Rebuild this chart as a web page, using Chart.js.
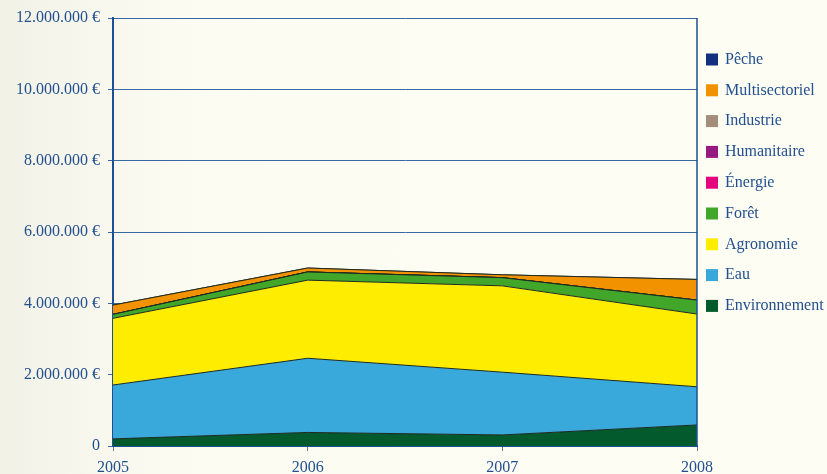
<!DOCTYPE html>
<html>
<head>
<meta charset="utf-8">
<script src="https://cdn.jsdelivr.net/npm/chart.js@4"></script>
<style>
  html, body { margin: 0; padding: 0; }
  body {
    width: 827px; height: 474px; overflow: hidden;
    background: linear-gradient(to right, #f2f1e6 0px, #f8f7ee 90px, #fdfcf2 200px, #fefdf4 827px);
  }
  #wrap { position: relative; width: 827px; height: 474px; }
</style>
</head>
<body>
<div id="wrap"><canvas id="chart" width="827" height="474"></canvas></div>
<script>
const years = ["2005", "2006", "2007", "2008"];

// montants par secteur (€), du bas vers le haut de la pile
const environnement = [200000, 380000, 310000, 590000];
const eau = [1510000, 2080000, 1760000, 1070000];
const agronomie = [1870000, 2190000, 2420000, 2040000];
const foret = [110000, 230000, 230000, 390000];
const energie = [0, 0, 0, 0];
const humanitaire = [0, 0, 0, 0];
const industrie = [0, 0, 0, 0];
const multisectoriel = [260000, 110000, 80000, 580000];
const peche = [0, 0, 0, 0];

const yTicks = [0, 2000000, 4000000, 6000000, 8000000, 10000000, 12000000];

const textColor = "#22508f";
const axisColor = "#1d4f93";

function series(label, data, color) {
  return {
    label: label,
    data: data,
    backgroundColor: color,
    borderColor: "#1e2a22",
    borderWidth: 1,
    pointRadius: 0,
    tension: 0,
    fill: label === "Environnement" ? "origin" : "-1"
  };
}

const datasets = [
  series("Environnement", environnement, "#035a2c"),
  series("Eau", eau, "#39a9db"),
  series("Agronomie", agronomie, "#ffed00"),
  series("Forêt", foret, "#41a62a"),
  series("Énergie", energie, "#e5007e"),
  series("Humanitaire", humanitaire, "#951b81"),
  series("Industrie", industrie, "#a58d7b"),
  series("Multisectoriel", multisectoriel, "#f39200"),
  series("Pêche", peche, "#12307f")
];

function euro(v) {
  if (v === 0) return "0";
  return String(v).replace(/\B(?=(\d{3})+(?!\d))/g, ".") + " €";
}

// bord droit du cadre + légende à droite
const framePlugin = {
  id: "frame",
  afterDraw(chart) {
    const ctx = chart.ctx;
    const a = chart.chartArea;
    ctx.save();
    ctx.strokeStyle = axisColor;
    ctx.lineWidth = 1.5;
    ctx.beginPath();
    ctx.moveTo(a.right, a.top);
    ctx.lineTo(a.right, a.bottom);
    ctx.stroke();

    const items = chart.data.datasets.slice().reverse();
    ctx.font = "16px 'Liberation Serif'";
    ctx.textBaseline = "middle";
    items.forEach((ds, i) => {
      const y = 59.5 + i * 30.8;
      ctx.fillStyle = ds.backgroundColor;
      ctx.fillRect(706, y - 6, 12, 12);
      ctx.fillStyle = textColor;
      ctx.fillText(ds.label, 725, y);
    });
    ctx.restore();
  }
};

new Chart(document.getElementById("chart"), {
  type: "line",
  data: { labels: years, datasets: datasets },
  options: {
    responsive: false,
    animation: false,
    layout: { padding: { top: 18, right: 130, left: 0, bottom: 0 } },
    plugins: {
      legend: { display: false },
      tooltip: { enabled: false }
    },
    scales: {
      x: {
        offset: false,
        grid: { drawOnChartArea: false, color: "#777", tickLength: 5 },
        border: { color: axisColor, width: 2 },
        ticks: { color: textColor, font: { family: "Liberation Serif", size: 16 }, padding: 7, maxRotation: 0 },
        afterFit(scale) { scale.height = 28; }
      },
      y: {
        stacked: true,
        min: 0,
        max: 12000000,
        afterBuildTicks(scale) { scale.ticks = yTicks.map(v => ({ value: v })); },
        grid: { color: "#3a68a4", lineWidth: 1, tickLength: 5 },
        border: { color: axisColor, width: 2 },
        ticks: {
          color: textColor,
          font: { family: "Liberation Serif", size: 16 },
          padding: 8,
          callback: v => euro(v)
        },
        afterFit(scale) { scale.width = 113; }
      }
    }
  },
  plugins: [framePlugin]
});
</script>
</body>
</html>
